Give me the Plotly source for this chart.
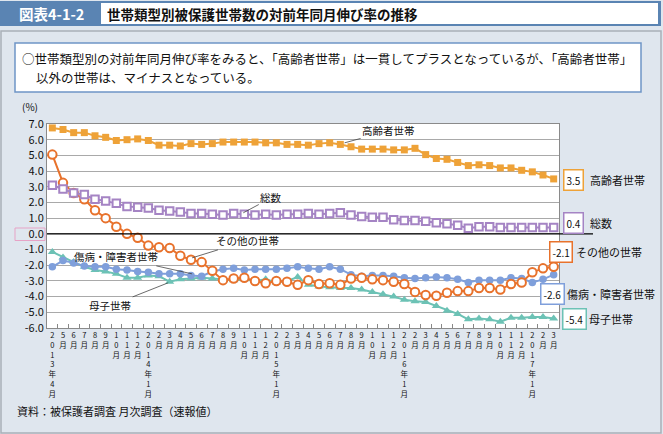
import plotly.graph_objects as go

# ---------------- data ----------------
categories = [
    "2013年4月", "2013年5月", "2013年6月", "2013年7月", "2013年8月", "2013年9月",
    "2013年10月", "2013年11月", "2013年12月",
    "2014年1月", "2014年2月", "2014年3月", "2014年4月", "2014年5月", "2014年6月",
    "2014年7月", "2014年8月", "2014年9月", "2014年10月", "2014年11月", "2014年12月",
    "2015年1月", "2015年2月", "2015年3月", "2015年4月", "2015年5月", "2015年6月",
    "2015年7月", "2015年8月", "2015年9月", "2015年10月", "2015年11月", "2015年12月",
    "2016年1月", "2016年2月", "2016年3月", "2016年4月", "2016年5月", "2016年6月",
    "2016年7月", "2016年8月", "2016年9月", "2016年10月", "2016年11月", "2016年12月",
    "2017年1月", "2017年2月", "2017年3月",
]

elderly = [6.75, 6.65, 6.45, 6.45, 6.25, 6.15, 5.95, 6.0, 6.05, 5.95,
           5.65, 5.65, 5.6, 5.75, 5.7, 5.75, 5.85, 5.85, 5.85, 5.85,
           5.8, 5.8, 5.7, 5.7, 5.65, 5.75, 5.8, 5.7, 5.55, 5.4,
           5.4, 5.4, 5.35, 5.35, 5.45, 5.05, 4.8, 4.75, 4.55, 4.35,
           4.4, 4.35, 4.2, 4.2, 4.05, 3.95, 3.75, 3.5]
total = [3.1, 2.85, 2.6, 2.5, 2.2, 2.1, 1.95, 1.75, 1.7, 1.65,
         1.5, 1.45, 1.4, 1.3, 1.3, 1.25, 1.2, 1.3, 1.25, 1.2,
         1.25, 1.2, 1.25, 1.25, 1.3, 1.25, 1.3, 1.35, 1.2, 1.1,
         1.05, 1.05, 0.9, 0.85, 0.85, 0.8, 0.7, 0.65, 0.55, 0.35,
         0.45, 0.45, 0.4, 0.4, 0.4, 0.4, 0.4, 0.4]
other = [5.05, 3.25, 2.6, 2.2, 1.5, 1.0, 0.45, 0.0, -0.25, -0.75,
         -0.85, -0.9, -1.4, -1.65, -1.8, -2.35, -2.95, -2.85, -2.8, -3.0,
         -3.15, -3.0, -3.05, -3.25, -2.95, -3.2, -3.15, -3.25, -2.85, -2.8,
         -2.9, -2.95, -3.05, -3.2, -3.7, -3.9, -3.95, -3.75, -3.65, -3.65,
         -3.45, -3.45, -3.55, -3.2, -3.1, -2.45, -2.2, -2.1]
disabled = [-2.1, -1.7, -1.85, -2.05, -2.1, -2.1, -2.25, -2.3, -2.4, -2.45,
            -2.55, -2.55, -2.55, -2.65, -2.7, -2.4, -2.25, -2.2, -2.3, -2.25,
            -2.25, -2.25, -2.2, -2.1, -2.2, -2.25, -2.1, -2.25, -2.6, -2.7,
            -2.65, -2.65, -2.7, -2.8, -2.85, -2.8, -2.75, -2.8, -2.9, -3.1,
            -2.95, -2.95, -2.95, -2.8, -2.85, -3.1, -2.9, -2.6]
single_mother = [-1.15, -1.5, -1.8, -2.1, -2.3, -2.4, -2.55, -2.8, -2.8, -2.65,
                 -2.7, -3.05, -2.9, -2.85, -2.8, -2.85, -2.9, -2.95, -2.9, -3.0,
                 -2.9, -3.1, -3.0, -2.75, -3.25, -3.35, -3.4, -3.45, -3.45, -3.55,
                 -3.7, -3.85, -4.0, -4.2, -4.3, -4.35, -4.6, -4.9, -5.1, -5.45,
                 -5.4, -5.45, -5.6, -5.35, -5.35, -5.3, -5.3, -5.4]

y_ticks = [7, 6, 5, 4, 3, 2, 1, 0, -1, -2, -3, -4, -5, -6]

series_names = ["高齢者世帯", "総数", "その他の世帯", "傷病・障害者世帯", "母子世帯"]

title_label = "図表4-1-2"
title_text = "世帯類型別被保護世帯数の対前年同月伸び率の推移"
note_line1 = "○世帯類型別の対前年同月伸び率をみると、「高齢者世帯」は一貫してプラスとなっているが、「高齢者世帯」"
note_line2 = "以外の世帯は、マイナスとなっている。"
source_text = "資料：被保護者調査 月次調査（速報値）"

# ---------------- styling ----------------
FONT = "Noto Sans CJK JP"
W, H = 663, 434
L, R, T, B = 47, 559, 124, 328  # plot area pixel box

C_ELD = "#eea238"
C_TOT = "#a584c4"
C_OTH = "#e8722c"
C_DIS = "#7f9fdb"
C_SGL = "#6cc2b5"


def px(xp):
    return (xp - L) / (R - L)


def py(yp):
    return (B - yp) / (B - T)


def stacked(label, first):
    # Jan labels and the first label show the year; others month only
    if not (first or label.endswith("年1月")):
        label = label.split("年")[1]
    return "<br>".join(list(label))


ticktext = [stacked(c, i == 0) for i, c in enumerate(categories)]

fig = go.Figure()

fig.add_trace(go.Scatter(
    x=categories, y=single_mother, mode="lines+markers", name=series_names[4],
    line=dict(color=C_SGL, width=2),
    marker=dict(symbol="triangle-up", size=8, color=C_SGL)))
fig.add_trace(go.Scatter(
    x=categories, y=disabled, mode="lines+markers", name=series_names[3],
    line=dict(color=C_DIS, width=2),
    marker=dict(symbol="circle", size=7.5, color=C_DIS)))
fig.add_trace(go.Scatter(
    x=categories, y=other, mode="lines+markers", name=series_names[2],
    line=dict(color=C_OTH, width=2),
    marker=dict(symbol="circle", size=8.5, color="white",
                line=dict(color=C_OTH, width=2))))
fig.add_trace(go.Scatter(
    x=categories, y=total, mode="lines+markers", name=series_names[1],
    line=dict(color=C_TOT, width=2),
    marker=dict(symbol="square", size=7.5, color="white",
                line=dict(color=C_TOT, width=2))))
fig.add_trace(go.Scatter(
    x=categories, y=elderly, mode="lines+markers", name=series_names[0],
    line=dict(color=C_ELD, width=2),
    marker=dict(symbol="square", size=7, color=C_ELD)))

shapes = []
# header blue band and white title box
shapes.append(dict(type="rect", xref="paper", yref="paper", layer="below",
                   x0=px(0), x1=px(661), y0=py(1), y1=py(26),
                   fillcolor="#5a84b3", line=dict(width=0)))
shapes.append(dict(type="rect", xref="paper", yref="paper", layer="below",
                   x0=px(101), x1=px(658), y0=py(3), y1=py(24),
                   fillcolor="white", line=dict(width=0)))
# panel border
shapes.append(dict(type="rect", xref="paper", yref="paper", layer="below",
                   x0=px(1), x1=px(661), y0=py(31), y1=py(433),
                   fillcolor="rgba(0,0,0,0)", line=dict(color="#a9b0b8", width=1.5)))
# note box
shapes.append(dict(type="rect", xref="paper", yref="paper", layer="below",
                   x0=px(15), x1=px(641), y0=py(43), y1=py(92),
                   fillcolor="white", line=dict(color="#6f95c6", width=1.5)))
# zero line extending beyond plot
shapes.append(dict(type="line", xref="paper", yref="y", layer="above",
                   x0=0, x1=px(593), y0=0, y1=0,
                   line=dict(color="black", width=1.2)))
# pink frame around 0.0 label
shapes.append(dict(type="rect", xref="paper", yref="paper", layer="above",
                   x0=px(15), x1=px(45), y0=py(240.5), y1=py(228),
                   line=dict(color="#e6a3c6", width=1)))

ann = []
ann.append(dict(text=f"<b>{title_label}</b>", xref="paper", yref="paper",
                x=px(51), y=py(14), showarrow=False, xanchor="center", yanchor="middle",
                font=dict(family=FONT, size=14.5, color="white")))
ann.append(dict(text=f"<b>{title_text}</b>", xref="paper", yref="paper",
                x=px(105), y=py(14), showarrow=False, xanchor="left", yanchor="middle",
                font=dict(family=FONT, size=13.5, color="#111")))
ann.append(dict(text=note_line1, xref="paper", yref="paper",
                x=px(20), y=py(58), showarrow=False, xanchor="left", yanchor="middle",
                font=dict(family=FONT, size=12.5, color="#111")))
ann.append(dict(text=note_line2, xref="paper", yref="paper",
                x=px(34), y=py(78), showarrow=False, xanchor="left", yanchor="middle",
                font=dict(family=FONT, size=12.5, color="#111")))
ann.append(dict(text="(%)", xref="paper", yref="paper",
                x=px(30), y=py(106), showarrow=False, xanchor="center", yanchor="middle",
                font=dict(family=FONT, size=10, color="#111")))
ann.append(dict(text=source_text, xref="paper", yref="paper",
                x=px(15), y=py(411), showarrow=False, xanchor="left", yanchor="middle",
                font=dict(family=FONT, size=11, color="#111")))

# in-plot leader-line labels: (name, tip index, tip value, ax, ay)
leaders = [
    (series_names[0], 27.4, 5.8, 44, -12),
    (series_names[1], 17.9, 1.34, 28, -15),
    (series_names[2], 13.1, -1.53, 55, -17),
    (series_names[3], 13.1, -2.55, -76, -17),
    (series_names[4], 10.86, -3.12, -58, 23),
]
for name, xi, yv, ax, ay in leaders:
    ann.append(dict(text=name, xref="x", yref="y", x=xi, y=yv, ax=ax, ay=ay,
                    showarrow=True, arrowhead=0, arrowwidth=0.8, arrowcolor="#444",
                    standoff=0, font=dict(family=FONT, size=10.5, color="#111"),
                    bgcolor="rgba(255,255,255,0)"))

# right-side value boxes and names: (series values, color, box center x, y, name left x)
right_labels = [
    (elderly, C_ELD, 573, 179.5, 588, series_names[0]),
    (total, C_TOT, 573, 223.3, 588, series_names[1]),
    (other, C_OTH, 560.5, 252.3, 574, series_names[2]),
    (disabled, C_DIS, 552, 294.2, 565, series_names[3]),
    (single_mother, C_SGL, 574.3, 318.7, 587, series_names[4]),
]
for vals, col, cx, cy, nx, name in right_labels:
    ann.append(dict(text=f"{vals[-1]:.1f}", xref="paper", yref="paper",
                    x=px(cx), y=py(cy), showarrow=False, xanchor="center", yanchor="middle",
                    bgcolor="white", bordercolor=col, borderwidth=1.5, borderpad=2,
                    font=dict(family=FONT, size=10, color="#111")))
    ann.append(dict(text=name, xref="paper", yref="paper",
                    x=px(nx), y=py(cy), showarrow=False, xanchor="left", yanchor="middle",
                    font=dict(family=FONT, size=11, color="#111")))

fig.update_layout(
    width=W, height=H,
    margin=dict(l=L, r=W - R, t=T, b=H - B, pad=0),
    paper_bgcolor="#dfe6ee",
    plot_bgcolor="white",
    showlegend=False,
    shapes=shapes,
    annotations=ann,
    font=dict(family=FONT, color="#111"),
)
fig.update_xaxes(
    type="category", categoryorder="array", categoryarray=categories,
    tickmode="array", tickvals=categories, ticktext=ticktext,
    tickson="boundaries", ticks="inside", ticklen=4, tickcolor="#888",
    showgrid=False, showline=True, linecolor="#8a8a8a", linewidth=1, mirror=True,
    tickfont=dict(family=FONT, size=7.5, color="#111"), tickangle=0,
    range=[-0.5, len(categories) - 0.5],
)
fig.update_yaxes(
    range=[-6, 7], tickmode="array", tickvals=y_ticks,
    ticktext=[f"{v:.1f}" for v in y_ticks],
    showgrid=True, gridcolor="#a9a9a9", gridwidth=1, zeroline=False,
    showline=True, linecolor="#8a8a8a", linewidth=1, mirror=True, ticks="",
    tickfont=dict(family=FONT, size=11, color="#111"),
)

fig.write_html("out.html")
